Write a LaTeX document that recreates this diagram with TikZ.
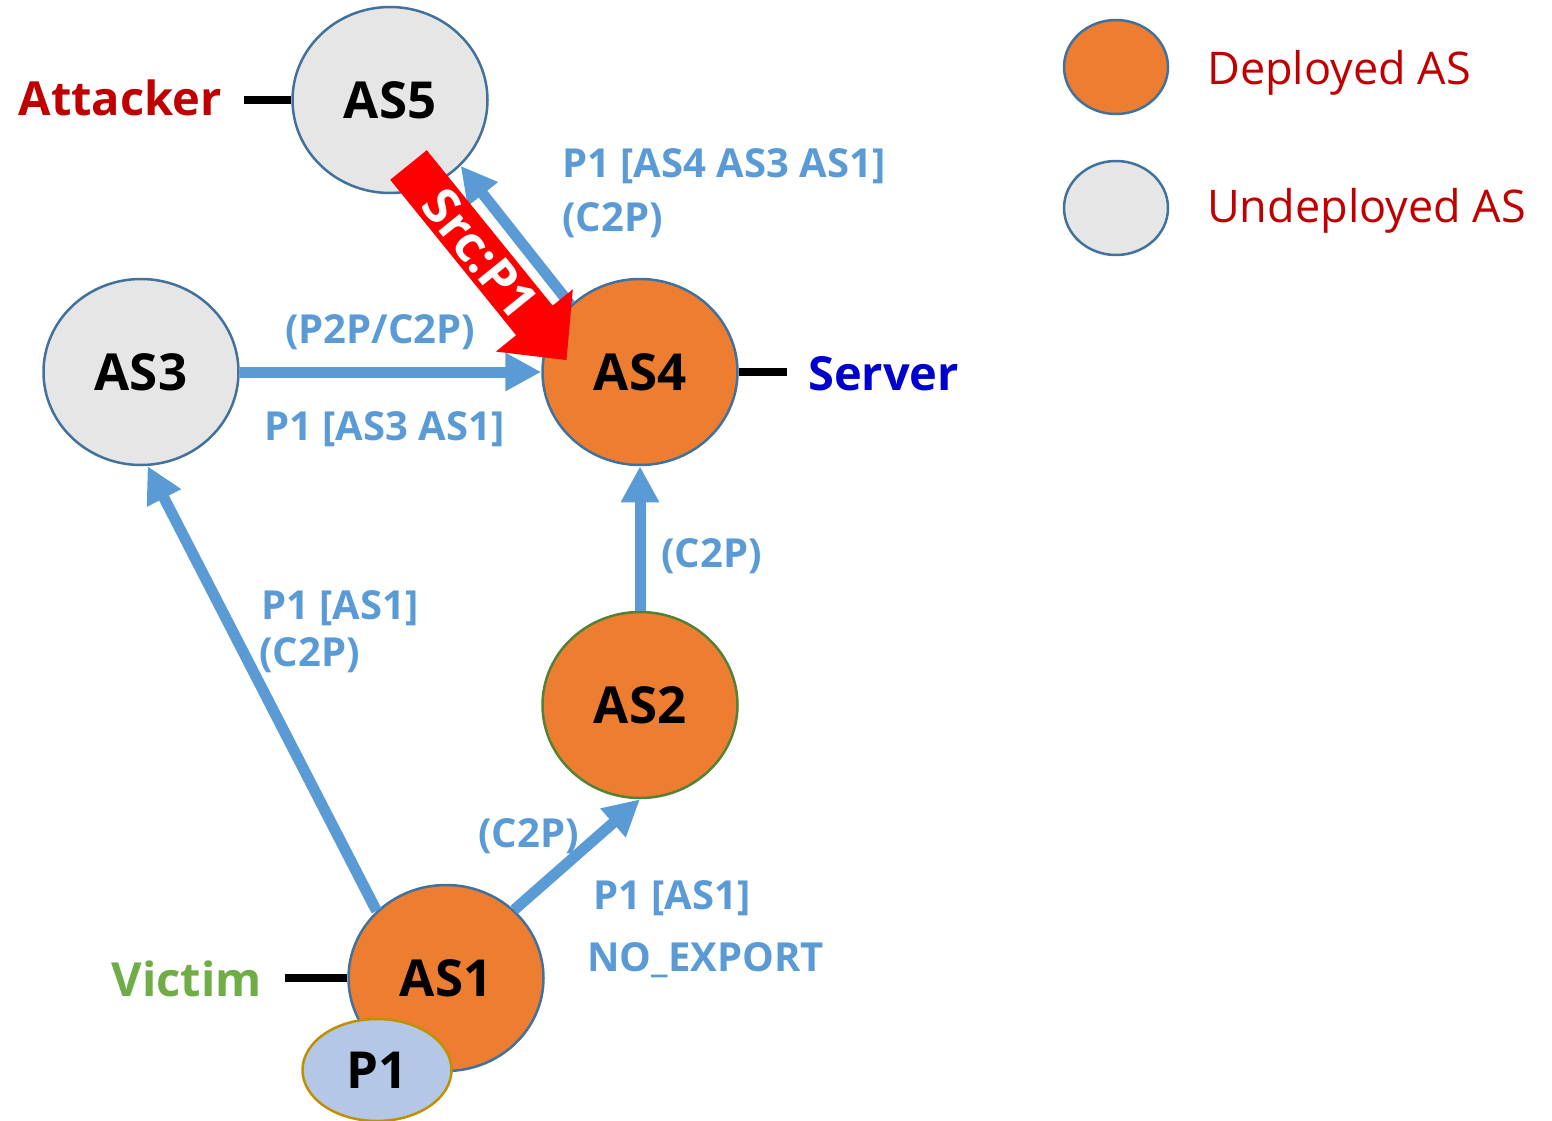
\documentclass[tikz,border=0pt]{standalone}
\usepackage{fontspec}
\setmainfont{Open Sans}
\usetikzlibrary{shapes.geometric,arrows.meta}

\definecolor{asorange}{HTML}{ED7D31}
\definecolor{asgrey}{HTML}{E6E6E6}
\definecolor{asborder}{HTML}{41719C}
\definecolor{asgreen}{HTML}{548235}
\definecolor{routeblue}{HTML}{5B9BD5}
\definecolor{prefixfill}{HTML}{B4C7E7}
\definecolor{prefixborder}{HTML}{BF9000}
\definecolor{darkred}{HTML}{C00000}
\definecolor{serverblue}{HTML}{0000CC}
\definecolor{victimgreen}{HTML}{70AD47}

\tikzset{
  asnode/.style={ellipse, draw=asborder, line width=2.5pt, minimum width=195pt,
    minimum height=186pt, inner sep=0pt, font=\bfseries\fontsize{51}{60}\selectfont},
  deployed/.style={asnode, fill=asorange},
  undeployed/.style={asnode, fill=asgrey},
  route/.style={draw=routeblue, line width=11pt, -{Triangle[length=36pt,width=36pt]}},
  routelabel/.style={text=routeblue, font=\bfseries\fontsize{40}{47}\selectfont,
    inner sep=0pt, anchor=base west},
  rolelabel/.style={font=\bfseries\fontsize{47}{55}\selectfont, inner sep=0pt},
  tie/.style={line width=8pt, black},
  legendshape/.style={ellipse, draw=asborder, line width=2.5pt, minimum width=104pt,
    minimum height=94pt, inner sep=0pt},
  legendtext/.style={text=darkred, font=\fontsize{45}{52}\selectfont, inner sep=0pt,
    anchor=base west},
}

\begin{document}
\begin{tikzpicture}[x=1pt, y=-1pt]
\useasboundingbox (0,0) rectangle (1552,1121);

% autonomous systems
\node[undeployed] (AS5) at (390,100) {AS5};
\node[undeployed] (AS3) at (141,372) {AS3};
\node[deployed]   (AS4) at (640,372) {AS4};
\node[deployed, draw=asgreen] (AS2) at (640,705) {AS2};
\node[deployed]   (AS1) at (446,978) {AS1};

% roles
\node[rolelabel, text=darkred, anchor=base east] (attacker) at (222,116) {Attacker};
\node[rolelabel, text=serverblue, anchor=base west] (server) at (808,390) {Server};
\node[rolelabel, text=victimgreen, anchor=base east] (victim) at (262,996) {Victim};
\coordinate (attacker-tie) at (244,100);
\coordinate (server-tie) at (787,372);
\coordinate (victim-tie) at (285,978);
\draw[tie] (attacker-tie) -- (AS5.west);
\draw[tie] (AS4.east) -- (server-tie);
\draw[tie] (victim-tie) -- (AS1.west);

% route announcements
\draw[route] (AS3.east) -- (AS4.west);
\draw[route] (AS2.north) -- (AS4.south);
\draw[route] (AS1.45) -- (AS2.south);
\draw[route] (AS1.136) -- (AS3.-86);
\draw[route] (AS4.136) -- (AS5.-43);

% announcement labels
\node[routelabel] (l45a) at (562,177) {P1 [AS4 AS3 AS1]};
\node[routelabel] (l45b) at (562,231) {(C2P)};
\node[routelabel] (l34a) at (285,343) {(P2P/C2P)};
\node[routelabel] (l34b) at (264,440) {P1 [AS3 AS1]};
\node[routelabel] (l24)  at (661,567) {(C2P)};
\node[routelabel] (l13a) at (261,619) {P1 [AS1]};
\node[routelabel] (l13b) at (259,666) {(C2P)};
\node[routelabel] (l12a) at (478,847) {(C2P)};
\node[routelabel] (l12b) at (593,909) {P1 [AS1]};
\node[routelabel] (l12c) at (587,971) {NO\_EXPORT};

% spoofed traffic from the attacker towards the server
\coordinate (spoof-tail) at (408.5,165);
\begin{scope}[shift={(spoof-tail)}, rotate=-51]
  \fill[red] (0,-23.5) -- (200,-23.5) -- (200,-49.5) -- (251,0)
    -- (200,49.5) -- (200,23.5) -- (0,23.5) -- cycle;
  \node[transform shape, text=white, inner sep=0pt,
    font=\bfseries\fontsize{50}{58}\selectfont] (spoof) at (114,0) {Src:P1};
\end{scope}

% victim prefix
\node[ellipse, draw=prefixborder, fill=prefixfill, line width=2.5pt,
  minimum width=149pt, minimum height=102pt, inner sep=0pt,
  font=\bfseries\fontsize{51}{60}\selectfont] (P1) at (377,1070) {P1};

% legend
\node[legendshape, fill=asorange] (leg-dep) at (1116,67) {};
\node[legendshape, fill=asgrey]   (leg-undep) at (1116,208) {};
\node[legendtext] (leg-dep-text) at (1207,85) {Deployed AS};
\node[legendtext] (leg-undep-text) at (1207,222) {Undeployed AS};
\end{tikzpicture}
\end{document}
